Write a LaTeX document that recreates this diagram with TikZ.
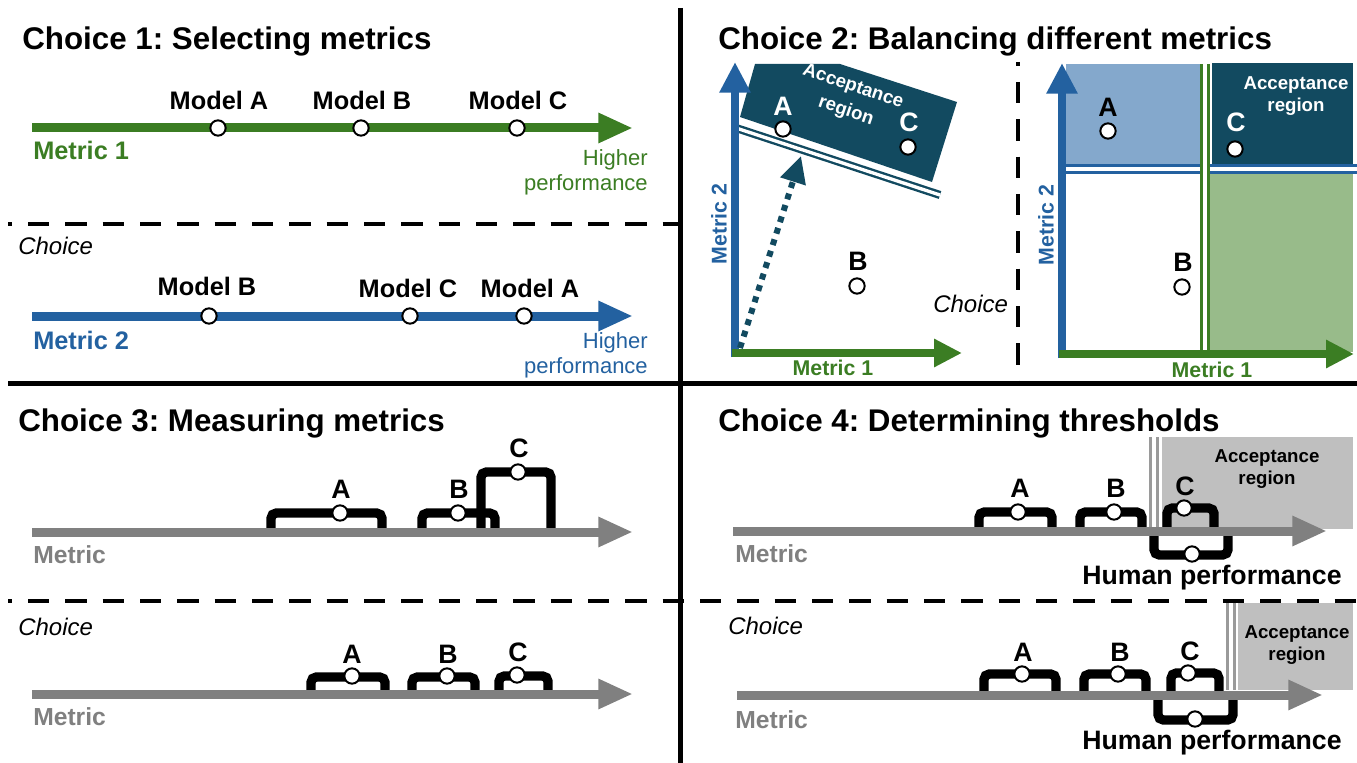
\documentclass[tikz,border=0pt]{standalone}
\usepackage{fontspec}
\setmainfont{Liberation Sans}
\usetikzlibrary{arrows.meta}
\frenchspacing

\definecolor{mgreen}{HTML}{3B7D23}
\definecolor{mblue}{HTML}{2361A0}
\definecolor{mteal}{HTML}{124A60}
\definecolor{lblue}{HTML}{84A8CC}
\definecolor{lgreen}{HTML}{98BB8A}
\definecolor{mgray}{HTML}{808080}
\definecolor{lgray}{HTML}{BFBFBF}

\begin{document}
\begin{tikzpicture}[x=0.75pt,y=-0.75pt,>={Triangle[length=26pt,width=21pt]}]
    \tikzstyle{every node}=[inner sep=0pt];
    \tikzstyle{mdot}=[circle,draw=black,fill=white,line width=1.5pt,minimum size=11.5pt];
    \tikzstyle{heading}=[anchor=base west,font=\fontsize{23.5}{27}\selectfont\bfseries];
    \tikzstyle{model}=[font=\fontsize{19}{22}\selectfont\bfseries];
    \tikzstyle{letter}=[font=\fontsize{20}{24}\selectfont\bfseries];
    \tikzstyle{choice}=[anchor=west,font=\fontsize{18}{21}\selectfont\itshape];
    \tikzstyle{higher}=[anchor=base east,font=\fontsize{16.5}{19}\selectfont];
    \tikzstyle{accept}=[align=center,font=\fontsize{14}{17}\selectfont\bfseries];
    \tikzstyle{axisname}=[font=\fontsize{16}{19}\selectfont\bfseries];
    \tikzstyle{metric}=[anchor=west,mgray,font=\fontsize{18.5}{22}\selectfont\bfseries];
    \tikzstyle{axis}=[line width=6.75pt,->];
    \tikzstyle{brk}=[line width=7pt,rounded corners=4pt];
    \tikzstyle{twin}=[line width=2.2pt,double=white,double distance=3pt];
    \tikzstyle{divider}=[line width=3.75pt];
    \tikzstyle{dashdiv}=[line width=3pt,dash pattern=on 16pt off 12pt,dash phase=13pt];

    \useasboundingbox (0,0) rectangle (1357,763);

    % panel borders
    \draw[divider] (680,8) -- (680,763);
    \draw[divider] (8,383) -- (1357,383);
    \draw[dashdiv] (8,224) -- (680,224);
    \draw[dashdiv] (8,601) -- (1357,601);
    \draw[dashdiv] (1018,62) -- (1018,383);

    % choice 1
    \node[heading] (t1) at (22,50) {Choice 1: Selecting metrics};
    \coordinate (g0) at (32,128);
    \coordinate (g1) at (633,128);
    \draw[axis,mgreen] (g0) -- (g1);
    \node[mdot] (ga) at (218,128) {};
    \node[mdot] (gb) at (361,128) {};
    \node[mdot] (gc) at (517,128) {};
    \node[model] (gla) at (219,100) {Model A};
    \node[model] (glb) at (362,100) {Model B};
    \node[model] (glc) at (518,100) {Model C};
    \node[model,mgreen,anchor=west] (gm) at (33,150) {Metric 1};
    \node[higher,mgreen] (gh1) at (648,166) {Higher};
    \node[higher,mgreen] (gh2) at (648,191) {performance};

    \node[choice] (ch1) at (18,246) {Choice};
    \coordinate (b0) at (32,316);
    \coordinate (b1) at (633,316);
    \draw[axis,mblue] (b0) -- (b1);
    \node[mdot] (bb) at (209,316) {};
    \node[mdot] (bc) at (410,316) {};
    \node[mdot] (ba) at (524,316) {};
    \node[model] (blb) at (207,286) {Model B};
    \node[model] (blc) at (408,288) {Model C};
    \node[model] (bla) at (530,288) {Model A};
    \node[model,mblue,anchor=west] (bm) at (33,340) {Metric 2};
    \node[higher,mblue] (bh1) at (648,348) {Higher};
    \node[higher,mblue] (bh2) at (648,373) {performance};

    % choice 2, combined metric
    \node[heading] (t2) at (718,50) {Choice 2: Balancing different metrics};
    \fill[mteal] (755,64) -- (840,64) -- (957,102) -- (932,182) -- (740,117) -- cycle;
    \draw[mteal,line width=1.8pt,double=white,double distance=2.5pt] (733,127) -- (940,195);
    \node[accept,white,rotate=-18.7] (acc1a) at (853,87) {Acceptance};
    \node[accept,white,rotate=-18.7] (acc1b) at (846,111) {region};
    \coordinate (o1) at (735,357);
    \coordinate (o1y) at (735,62);
    \coordinate (o1x) at (962,353);
    \draw[axis,mblue,line width=6pt,>={Triangle[length=23pt,width=22pt]}] (o1) -- (o1y);
    \draw[axis,mgreen,line width=6pt,>={Triangle[length=21pt,width=20pt]}] (o1) ++(-3,-4) -- (o1x);
    \coordinate (d0) at (740,348);
    \coordinate (d1) at (801,156);
    \draw[mteal,line width=4.5pt,dash pattern=on 4.5pt off 4.5pt,->,>={Triangle[length=20pt,width=19pt]}] (d0) -- (d1);
    \node[axisname,mblue,rotate=90] (lm2) at (719,224) {Metric 2};
    \node[axisname,mgreen] (lm1) at (833,368) {Metric 1};
    \node[mdot] (la) at (783,129) {};
    \node[mdot] (lc) at (908,147) {};
    \node[mdot] (lb) at (857,286) {};
    \node[letter,white] (lla) at (783,106) {A};
    \node[letter,white] (llc) at (909,122) {C};
    \node[letter] (llb) at (858,261) {B};
    \node[choice] (ch2) at (933,304) {Choice};

    % choice 2, separate thresholds
    \fill[lblue] (1066,64) rectangle (1201,164);
    \fill[mteal] (1212,63) rectangle (1353,164);
    \fill[lgreen] (1210,173) rectangle (1353,352);
    \draw[mblue,twin] (1064,169) -- (1357,169);
    \draw[mgreen,twin] (1205,64) -- (1205,352);
    \node[accept,white] (acc2) at (1296,96) {Acceptance\\region};
    \coordinate (o2) at (1062,358);
    \coordinate (o2y) at (1062,63);
    \coordinate (o2x) at (1354,354);
    \draw[axis,mblue,line width=6pt,>={Triangle[length=23pt,width=22pt]}] (o2) -- (o2y);
    \draw[axis,mgreen,line width=6pt,>={Triangle[length=21pt,width=20pt]}] (o2) ++(-3,-4) -- (o2x);
    \node[axisname,mblue,rotate=90] (rm2) at (1046,225) {Metric 2};
    \node[axisname,mgreen] (rm1) at (1212,370) {Metric 1};
    \node[mdot] (ra) at (1108,131) {};
    \node[mdot] (rc) at (1235,149) {};
    \node[mdot] (rb) at (1182,287) {};
    \node[letter] (rla) at (1108,107) {A};
    \node[letter,white] (rlc) at (1236,122) {C};
    \node[letter] (rlb) at (1183,262) {B};

    % choice 3
    \node[heading] (t3) at (18,431) {Choice 3: Measuring metrics};
    \draw[brk] (271,532) -- (271,513) -- (382,513) -- (382,532);
    \draw[brk] (422,532) -- (422,513) -- (495,513) -- (495,532);
    \draw[brk] (481,532) -- (481,472) -- (551,472) -- (551,532);
    \coordinate (m0) at (32,532);
    \coordinate (m1) at (633,532);
    \draw[axis,mgray] (m0) -- (m1);
    \node[metric] (mm) at (33,555) {Metric};
    \node[mdot] (ma) at (340,513) {};
    \node[mdot] (mb) at (458,513) {};
    \node[mdot] (mc) at (518,472) {};
    \node[letter] (mla) at (341,489) {A};
    \node[letter] (mlb) at (459,489) {B};
    \node[letter] (mlc) at (519,448) {C};

    \node[choice] (ch3) at (18,627) {Choice};
    \draw[brk] (311,694) -- (311,677) -- (385,677) -- (385,694);
    \draw[brk] (412,694) -- (412,677) -- (475,677) -- (475,694);
    \draw[brk] (499,694) -- (499,676) -- (548,676) -- (548,694);
    \coordinate (n0) at (32,694);
    \coordinate (n1) at (633,694);
    \draw[axis,mgray] (n0) -- (n1);
    \node[metric] (nm) at (33,717) {Metric};
    \node[mdot] (na) at (352,676) {};
    \node[mdot] (nb) at (447,676) {};
    \node[mdot] (nc) at (517,675) {};
    \node[letter] (nla) at (352,654) {A};
    \node[letter] (nlb) at (448,654) {B};
    \node[letter] (nlc) at (518,652) {C};

    % choice 4
    \node[heading] (t4) at (718,431) {Choice 4: Determining thresholds};
    \fill[lgray] (1162,437) rectangle (1353,529);
    \node[accept] (acc3) at (1267,469) {Acceptance\\region};
    \draw[mgray!80,twin] (1154,437) -- (1154,530);
    \draw[brk] (979,531) -- (979,512) -- (1052,512) -- (1052,531);
    \draw[brk] (1080,531) -- (1080,512) -- (1142,512) -- (1142,531);
    \draw[brk] (1167,531) -- (1167,508) -- (1214,508) -- (1214,531);
    \draw[brk] (1154,531) -- (1154,555) -- (1228,555) -- (1228,531);
    \coordinate (p0) at (733,531);
    \coordinate (p1) at (1327,531);
    \draw[axis,mgray] (p0) -- (p1);
    \node[metric] (pm) at (735,554) {Metric};
    \node[mdot] (pa) at (1018,512) {};
    \node[mdot] (pb) at (1114,512) {};
    \node[mdot] (pc) at (1184,508) {};
    \node[mdot] (ph) at (1192,554) {};
    \node[letter] (pla) at (1020,488) {A};
    \node[letter] (plb) at (1116,488) {B};
    \node[letter] (plc) at (1185,486) {C};
    \node[letter] (plh) at (1212,578) {Human performance};

    \node[choice] (ch4) at (728,626) {Choice};
    \fill[lgray] (1238,603) rectangle (1353,690);
    \node[accept] (acc4) at (1297,645) {Acceptance\\region};
    \draw[mgray!80,twin] (1231,603) -- (1231,690);
    \draw[brk] (984,695) -- (984,674) -- (1056,674) -- (1056,695);
    \draw[brk] (1084,695) -- (1084,674) -- (1146,674) -- (1146,695);
    \draw[brk] (1171,695) -- (1171,673) -- (1219,673) -- (1219,695);
    \draw[brk] (1158,695) -- (1158,720) -- (1233,720) -- (1233,695);
    \coordinate (q0) at (737,695);
    \coordinate (q1) at (1323,695);
    \draw[axis,mgray] (q0) -- (q1);
    \node[metric] (qm) at (735,720) {Metric};
    \node[mdot] (qa) at (1022,674) {};
    \node[mdot] (qb) at (1118,674) {};
    \node[mdot] (qc) at (1188,673) {};
    \node[mdot] (qh) at (1195,719) {};
    \node[letter] (qla) at (1023,652) {A};
    \node[letter] (qlb) at (1120,652) {B};
    \node[letter] (qlc) at (1190,651) {C};
    \node[letter] (qlh) at (1212,743) {Human performance};
\end{tikzpicture}
\end{document}
